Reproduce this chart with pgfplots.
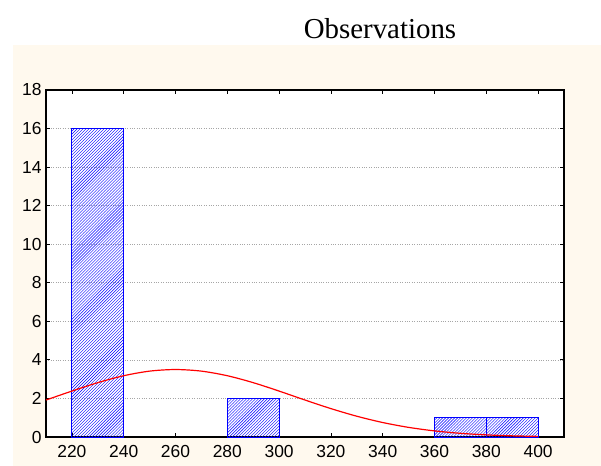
\documentclass[border=0pt]{standalone}
\usepackage{fontspec}
\setmainfont{Liberation Sans}
\newfontfamily\titlefont{Liberation Serif}
\usepackage{pgfplots}
\pgfplotsset{compat=1.18}
\usetikzlibrary{patterns}
\definecolor{cream}{RGB}{255,249,238}
\begin{document}
\begin{tikzpicture}
\useasboundingbox (-46bp,-29bp) rectangle (555bp,437bp);
\fill[cream] (-33bp,-29bp) rectangle (555bp,392bp);
\node[font=\titlefont\fontsize{29}{29}\selectfont] at (334bp,408bp) {Observations};
\begin{axis}[
  at={(0,0)}, anchor=south west,
  scale only axis, width=518bp, height=347bp,
  xmin=210, xmax=410, ymin=0, ymax=18,
  xtick={220,240,...,400}, ytick={0,2,...,18},
  tick align=inside, xtick pos=both, ytick pos=both,
  major tick length=4bp,
  tick style={black, line width=0.8pt},
  axis line style={black, line width=1.1pt},
  axis background/.style={fill=white},
  ymajorgrids, grid style={gray!70, dotted, line width=0.6pt},
  ticklabel style={font=\fontsize{17.5}{17.5}\selectfont},
  /pgf/number format/assume math mode=true,
  /pgf/number format/1000 sep={},
  xticklabel style={yshift=-5bp},
  yticklabel style={xshift=-1bp},
  clip=false,
]
\addplot[ybar, bar width=20, bar shift=0pt, draw=blue, line width=1pt, pattern=north east lines, pattern color=blue]
  coordinates {(230,16) (290,2) (370,1) (390,1)};
\addplot[red, line width=1.2pt, smooth] coordinates {
(210,1.918) (220,2.382) (230,2.819) (240,3.179) (250,3.417) (260,3.5)
(270,3.417) (280,3.179) (290,2.819) (300,2.382) (310,1.918) (320,1.473)
(330,1.078) (340,0.751) (350,0.499) (360,0.316) (370,0.191) (380,0.110)
(390,0.060) (400,0.031)};
\end{axis}
\end{tikzpicture}
\end{document}
